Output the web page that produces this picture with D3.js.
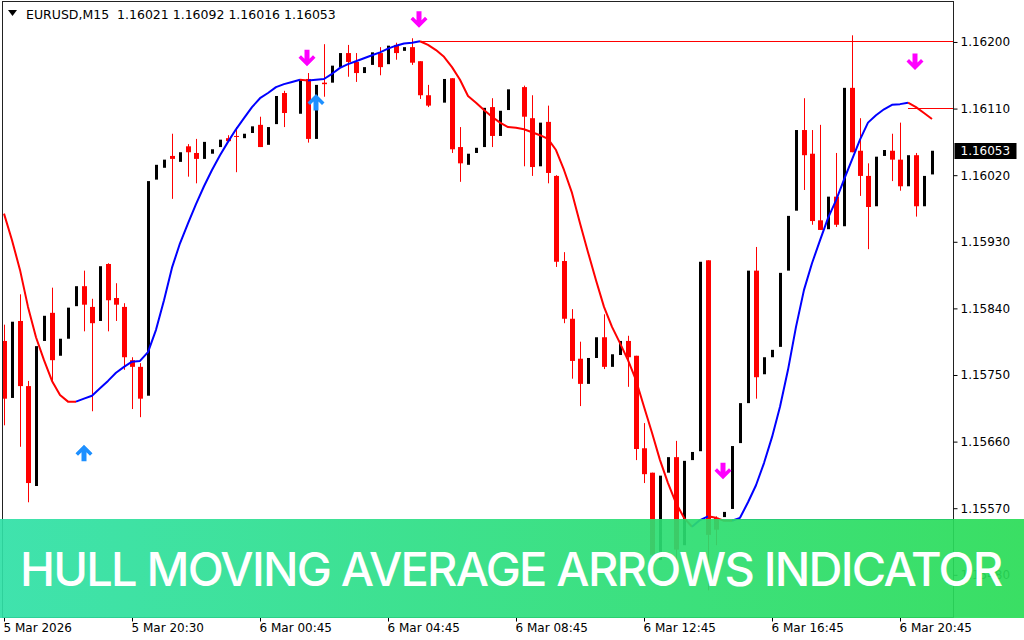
<!DOCTYPE html>
<html>
<head>
<meta charset="utf-8">
<script src="https://cdn.jsdelivr.net/npm/d3@7"></script>
<style>
  body { margin: 0; background: #fff; }
  svg { display: block; font-family: "DejaVu Sans", sans-serif; }
</style>
</head>
<body>
<script>
var symbol = "EURUSD,M15";
var bannerText = "HULL MOVING AVERAGE ARROWS INDICATOR";

// M15 bars, 5 Mar 16:30 .. 6 Mar 21:45
var open = [
  1.15796,1.15719,1.15823,1.15735,1.15600,1.15796,1.15834,1.15776,1.15799,1.15843,
  1.15870,1.15842,1.15823,1.15900,1.15854,1.15842,1.15770,1.15761,1.15722,1.16014,
  1.16030,1.16046,1.16038,1.16059,1.16050,1.16042,1.16049,1.16058,1.16070,1.16073,
  1.16070,1.16077,1.16088,1.16061,1.16089,1.16131,1.16147,1.16103,1.16150,1.16069,
  1.16145,1.16145,1.16166,1.16185,1.16173,1.16158,1.16169,1.16185,1.16170,1.16196,
  1.16188,1.16193,1.16174,1.16128,1.16116,1.16118,1.16151,1.16058,1.16034,1.16050,
  1.16058,1.16112,1.16073,1.16108,1.16083,1.16139,1.16097,1.16032,1.16092,1.16019,
  1.15904,1.15826,1.15772,1.15738,1.15773,1.15801,1.15761,1.15777,1.15796,1.15776,
  1.15651,1.15618,1.15500,1.15618,1.15639,1.15520,1.15635,1.15647,1.15905,1.15557,
  1.15558,1.15569,1.15658,1.15712,1.15891,1.15751,1.15774,1.15788,1.15891,1.15972,
  1.16081,1.16049,1.15959,1.15947,1.15991,1.15951,1.16138,1.16053,1.16019,1.15978,
  1.16046,1.16053,1.16041,1.16005,1.16047,1.15978,1.16021
];
var high = [
  1.15818,1.15822,1.15859,1.15742,1.15789,1.15830,1.15868,1.15799,1.15841,1.15870,
  1.15891,1.15853,1.15897,1.15901,1.15874,1.15847,1.15774,1.15766,1.16012,1.16034,
  1.16041,1.16076,1.16051,1.16062,1.16069,1.16065,1.16055,1.16068,1.16074,1.16085,
  1.16076,1.16086,1.16099,1.16085,1.16127,1.16134,1.16147,1.16149,1.16158,1.16142,
  1.16197,1.16168,1.16185,1.16196,1.16185,1.16166,1.16186,1.16193,1.16195,1.16199,
  1.16193,1.16205,1.16174,1.16142,1.16116,1.16150,1.16151,1.16085,1.16049,1.16057,
  1.16111,1.16124,1.16107,1.16136,1.16083,1.16141,1.16128,1.16091,1.16114,1.16020,
  1.15916,1.15839,1.15795,1.15773,1.15801,1.15832,1.15778,1.15796,1.15803,1.15776,
  1.15685,1.15618,1.15614,1.15639,1.15661,1.15634,1.15646,1.15903,1.15905,1.15559,
  1.15565,1.15654,1.15712,1.15891,1.15923,1.15774,1.15784,1.15888,1.15965,1.16081,
  1.16124,1.16081,1.16088,1.15991,1.16050,1.16138,1.16209,1.16097,1.16036,1.16045,
  1.16054,1.16076,1.16091,1.16047,1.16050,1.16019,1.16092
];
var low = [
  1.15682,1.15719,1.15653,1.15578,1.15600,1.15796,1.15739,1.15776,1.15799,1.15843,
  1.15809,1.15701,1.15823,1.15809,1.15823,1.15757,1.15704,1.15693,1.15722,1.16014,
  1.16030,1.15988,1.16038,1.16018,1.16009,1.16042,1.16049,1.16058,1.16065,1.16024,
  1.16070,1.16077,1.16058,1.16061,1.16089,1.16085,1.16147,1.16103,1.16064,1.16069,
  1.16126,1.16145,1.16166,1.16153,1.16146,1.16158,1.16169,1.16155,1.16170,1.16176,
  1.16188,1.16169,1.16123,1.16112,1.16116,1.16118,1.16050,1.16011,1.16034,1.16050,
  1.16058,1.16058,1.16073,1.16108,1.16083,1.16032,1.16019,1.16032,1.16009,1.15896,
  1.15820,1.15745,1.15708,1.15738,1.15773,1.15758,1.15761,1.15777,1.15734,1.15635,
  1.15604,1.15476,1.15500,1.15618,1.15500,1.15520,1.15635,1.15647,1.15459,1.15520,
  1.15558,1.15569,1.15658,1.15712,1.15718,1.15751,1.15774,1.15788,1.15891,1.15972,
  1.16000,1.15953,1.15946,1.15947,1.15950,1.15951,1.16051,1.15992,1.15920,1.15978,
  1.16046,1.16012,1.15999,1.16005,1.15964,1.15978,1.16016
];
var close = [
  1.15718,1.15822,1.15735,1.15604,1.15789,1.15830,1.15770,1.15799,1.15841,1.15870,
  1.15845,1.15820,1.15897,1.15851,1.15845,1.15774,1.15761,1.15718,1.16012,1.16034,
  1.16041,1.16042,1.16051,1.16051,1.16042,1.16065,1.16055,1.16068,1.16066,1.16072,
  1.16076,1.16086,1.16058,1.16085,1.16127,1.16104,1.16147,1.16149,1.16069,1.16142,
  1.16143,1.16168,1.16185,1.16173,1.16158,1.16166,1.16186,1.16166,1.16195,1.16185,
  1.16193,1.16172,1.16128,1.16114,1.16116,1.16150,1.16055,1.16036,1.16049,1.16057,
  1.16111,1.16073,1.16107,1.16136,1.16083,1.16099,1.16031,1.16091,1.16023,1.15903,
  1.15826,1.15769,1.15738,1.15773,1.15801,1.15761,1.15778,1.15796,1.15774,1.15650,
  1.15616,1.15507,1.15614,1.15639,1.15514,1.15634,1.15646,1.15903,1.15534,1.15541,
  1.15565,1.15654,1.15712,1.15891,1.15747,1.15774,1.15784,1.15888,1.15965,1.16081,
  1.16047,1.15958,1.15946,1.15991,1.15953,1.16138,1.16051,1.16019,1.15977,1.16045,
  1.16054,1.16041,1.16005,1.16047,1.15978,1.16019,1.16053
];

// hull moving average, one value per bar
var hma = [
  1.15968,1.15932,1.15892,1.15842,1.15801,1.15770,1.15742,1.15723,1.15714,1.15714,
  1.15718,1.15722,1.15732,1.15742,1.15753,1.15761,1.15768,1.15769,1.15781,1.15811,
  1.15851,1.15895,1.15928,1.15955,1.15981,1.16005,1.16027,1.16047,1.16065,1.16082,
  1.16097,1.16112,1.16124,1.16131,1.16139,1.16143,1.16146,1.16149,1.16148,1.16149,
  1.16150,1.16157,1.16165,1.16170,1.16174,1.16178,1.16182,1.16186,1.16191,1.16195,
  1.16198,1.16199,1.16201,1.16196,1.16189,1.16180,1.16166,1.16149,1.16127,1.16118,
  1.16108,1.16099,1.16091,1.16085,1.16084,1.16082,1.16078,1.16074,1.16069,1.16054,
  1.16027,1.15996,1.15955,1.15916,1.15878,1.15842,1.15815,1.15793,1.15770,1.15743,
  1.15707,1.15672,1.15635,1.15604,1.15577,1.15557,1.15545,1.15554,1.15559,1.15557,
  1.15553,1.15553,1.15557,1.15578,1.15601,1.15631,1.15666,1.15707,1.15757,1.15815,
  1.15865,1.15901,1.15932,1.15962,1.15986,1.16014,1.16041,1.16068,1.16091,1.16101,
  1.16109,1.16115,1.16116,1.16118,1.16112,1.16104,1.16096
];

// signal arrows (bar index, price)
var upBars = [10, 39];
var upPrices = [1.15645, 1.16119];
var downBars = [38, 52, 90, 114];
var downPrices = [1.16178, 1.16230, 1.15620, 1.16173];

// horizontal levels drawn from a bar to the right edge
var levelBars = [52, 113, 91];
var levelPrices = [1.16201, 1.16111, 1.15555];
var levelTypes = ["down", "down", "up"];

var priceTicks = [1.16200, 1.16110, 1.16020, 1.15930, 1.15840, 1.15750, 1.15660, 1.15570, 1.15480];
var timeTickBars = [0, 16, 32, 48, 64, 80, 96, 112];
var timeLabels = ["5 Mar 2026", "5 Mar 20:30", "6 Mar 00:45", "6 Mar 04:45",
                  "6 Mar 08:45", "6 Mar 12:45", "6 Mar 16:45", "6 Mar 20:45"];

var width = 1024, height = 640;
var plot = {left: 2.5, top: 1.5, right: 953.5, bottom: 617.5};

var svg = d3.select("body").append("svg")
    .attr("width", width)
    .attr("height", height);

var x = d3.scaleLinear().domain([0, open.length - 1]).range([4, 932]);
var y = d3.scaleLinear().domain([1.15423, 1.16254]).range([617, 2]);

svg.append("clipPath").attr("id", "clip")
  .append("rect")
    .attr("x", plot.left).attr("y", plot.top)
    .attr("width", plot.right - plot.left).attr("height", plot.bottom - plot.top);

var chart = svg.append("g").attr("clip-path", "url(#clip)");

// candles
var bars = d3.range(open.length);
var bear = bars.filter(function(i) { return close[i] < open[i]; });
var bull = bars.filter(function(i) { return close[i] > open[i]; });

chart.selectAll(".wick").data(bear).enter().append("line")
    .attr("x1", function(i) { return x(i) + 0.5; })
    .attr("x2", function(i) { return x(i) + 0.5; })
    .attr("y1", function(i) { return y(high[i]); })
    .attr("y2", function(i) { return y(low[i]); })
    .attr("stroke", "#ff0000")
    .attr("stroke-width", 1);

chart.selectAll(".bear").data(bear).enter().append("rect")
    .attr("x", function(i) { return x(i) - 2; })
    .attr("width", 5)
    .attr("y", function(i) { return y(open[i]); })
    .attr("height", function(i) { return Math.max(1, y(close[i]) - y(open[i])); })
    .attr("fill", "#ff0000");

chart.selectAll(".bull").data(bull).enter().append("rect")
    .attr("x", function(i) { return x(i) - 1; })
    .attr("width", 3)
    .attr("y", function(i) { return y(close[i]); })
    .attr("height", function(i) { return Math.max(1, y(open[i]) - y(close[i])); })
    .attr("fill", "#000");

// level lines
chart.selectAll(".level").data(levelBars).enter().append("line")
    .attr("x1", function(d) { return x(d); })
    .attr("x2", plot.right)
    .attr("y1", function(d, i) { return Math.round(y(levelPrices[i])) + 0.5; })
    .attr("y2", function(d, i) { return Math.round(y(levelPrices[i])) + 0.5; })
    .attr("stroke", function(d, i) { return levelTypes[i] == "up" ? "#0000ff" : "#ff0000"; })
    .attr("stroke-width", 1);

// hull line, red while falling, blue while rising
var line = d3.line()
    .x(function(i) { return x(i); })
    .y(function(i) { return y(hma[i]); });

var cur = "red", runs = [], run = null;
for (var i = 1; i < hma.length; i++) {
  if (hma[i] > hma[i-1]) cur = "blue";
  else if (hma[i] < hma[i-1]) cur = "red";
  if (!run || run.color != cur) {
    run = {color: cur, pts: [i-1]};
    runs.push(run);
  }
  run.pts.push(i);
}
runs.forEach(function(r) {
  chart.append("path")
      .datum(r.pts)
      .attr("fill", "none")
      .attr("stroke", r.color == "blue" ? "#0000ff" : "#ff0000")
      .attr("stroke-width", 2)
      .attr("stroke-linejoin", "round")
      .attr("d", line);
});

// arrows
var downShape = "M-2.5,-8.5L2.5,-8.5L2.5,0.5L6,-3L8.5,-0.5L0,8L-8.5,-0.5L-6,-3L-2.5,0.5Z";
var upShape = "M-2.5,8.5L2.5,8.5L2.5,-0.5L6,3L8.5,0.5L0,-8L-8.5,0.5L-6,3L-2.5,-0.5Z";

chart.selectAll(".dn").data(downBars).enter().append("path")
    .attr("d", downShape)
    .attr("transform", function(d, i) { return "translate(" + (x(d) - 1) + "," + y(downPrices[i]) + ")"; })
    .attr("fill", "#ff00ff");

chart.selectAll(".up").data(upBars).enter().append("path")
    .attr("d", upShape)
    .attr("transform", function(d, i) { return "translate(" + x(d) + "," + y(upPrices[i]) + ")"; })
    .attr("fill", "#1e90ff");

// frame
svg.append("rect")
    .attr("x", plot.left).attr("y", plot.top)
    .attr("width", plot.right - plot.left).attr("height", plot.bottom - plot.top)
    .attr("fill", "none")
    .attr("stroke", "#222");

// price axis
var yAxis = d3.axisRight(y)
    .tickValues(priceTicks)
    .tickSize(4)
    .tickPadding(3)
    .tickFormat(d3.format(".5f"));

var gy = svg.append("g")
    .attr("transform", "translate(" + plot.right + ",0)")
    .call(yAxis);
gy.select(".domain").remove();
gy.selectAll("line").attr("stroke", "#000");
gy.selectAll("text").attr("font-size", 12).attr("fill", "#000")
    .attr("font-family", "DejaVu Sans");

// time axis
var xAxis = d3.axisBottom(x)
    .tickValues(timeTickBars)
    .tickSize(4)
    .tickPadding(2)
    .tickFormat(function(d, i) { return timeLabels[i]; });

var gx = svg.append("g")
    .attr("transform", "translate(0," + plot.bottom + ")")
    .call(xAxis);
gx.select(".domain").remove();
gx.selectAll("line").attr("stroke", "#000");
gx.selectAll("text").attr("font-size", 12).attr("fill", "#000")
    .attr("font-family", "DejaVu Sans")
    .attr("text-anchor", "start")
    .attr("x", -1);

// last price tag
var last = close[close.length - 1];
svg.append("rect")
    .attr("x", plot.right + 1)
    .attr("y", Math.round(y(last)) - 8)
    .attr("width", 62)
    .attr("height", 16)
    .attr("fill", "#000");
svg.append("text")
    .attr("x", plot.right + 7)
    .attr("y", y(last))
    .attr("dy", "0.36em")
    .attr("font-size", 12)
    .attr("fill", "#fff")
    .text(d3.format(".5f")(last));

// title
var n = close.length - 1;
svg.append("path")
    .attr("d", "M8,10L17,10L12.5,16Z")
    .attr("fill", "#000");
svg.append("text")
    .attr("x", 26)
    .attr("y", 19)
    .attr("font-size", 12.5)
    .attr("fill", "#000")
    .attr("xml:space", "preserve")
    .text(symbol + "  " + [open[n], high[n], low[n], close[n]].map(d3.format(".5f")).join(" "));

// banner
var grad = svg.append("defs").append("linearGradient")
    .attr("id", "bannerGrad")
    .attr("x1", "0%").attr("x2", "100%").attr("y1", "0%").attr("y2", "0%");
grad.append("stop").attr("offset", "0%").attr("stop-color", "#2fe0a6");
grad.append("stop").attr("offset", "100%").attr("stop-color", "#29dc56");

svg.append("rect")
    .attr("x", 0)
    .attr("y", 519)
    .attr("width", width)
    .attr("height", 99)
    .attr("fill", "url(#bannerGrad)")
    .attr("opacity", 0.92);

var banner = svg.append("text")
    .attr("x", 20)
    .attr("y", 586)
    .attr("font-family", "Inter, 'Open Sans', sans-serif")
    .attr("font-weight", 500)
    .attr("font-size", 47)
    .attr("fill", "#fff")
    .text(bannerText);

// spread letters so the line runs from x=20 to about x=1003
var natural = banner.node().getComputedTextLength();
var spacing = (983 - natural) / (bannerText.length - 1);
banner.attr("letter-spacing", spacing.toFixed(2));
</script>
</body>
</html>
